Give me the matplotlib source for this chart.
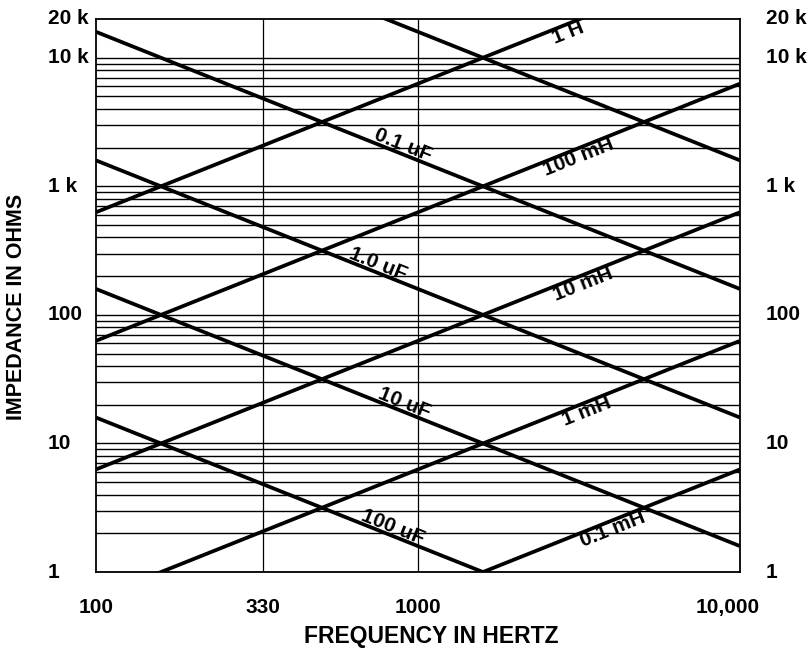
import numpy as np
import matplotlib
matplotlib.use('Agg')
import matplotlib.pyplot as plt
import matplotlib.transforms as mtransforms

plt.rcParams['font.family'] = ['Liberation Sans', 'DejaVu Sans']

# reactance lines, ohms read at 100 Hz and at 10 kHz (straight lines on log-log)
inductor_labels = ['1 H', '100 mH', '10 mH', '1 mH', '0.1 mH']
inductor_ohms_100 = [628, 62.8, 6.28, 0.628, 0.0628]
inductor_ohms_10k = [62800, 6280, 628, 62.8, 6.28]
inductor_label_freq = [2860, 3070, 3185, 3260, 3950]

capacitor_labels = ['', '0.1 uF', '1.0 uF', '10 uF', '100 uF']
capacitor_ohms_100 = [159000, 15900, 1590, 159, 15.9]
capacitor_ohms_10k = [1590, 159, 15.9, 1.59, 0.159]
capacitor_label_freq = [None, 880, 735, 890, 818]

freq_ends = [100, 10000]
xtick_values = [100, 330, 1000, 10000]
xtick_labels = ['100', '330', '1000', '10,000']
ytick_values = [1, 10, 100, 1000, 10000, 20000]
ytick_labels = ['1', '10', '100', '1 k', '10 k', '20 k']

fig = plt.figure(figsize=(8.09, 6.5), dpi=100)
ax = fig.add_axes([96/809, 1-572/650, 644/809, 553/650])
ax.set_xscale('log')
ax.set_yscale('log')
ax.set_xlim(100, 10000)
ax.set_ylim(1, 20000)

# horizontal grid: 1..9 in every decade
grid_y = [m * 10**d for d in range(0, 4) for m in range(1, 10)] + [10000]
for g in grid_y:
    ax.axhline(g, color='black', lw=1.0, zorder=1)
for g in [330, 1000]:
    ax.axvline(g, color='black', lw=0.9, zorder=1)

for s in ax.spines.values():
    s.set_linewidth(1.3)

ax.set_xticks(xtick_values)
ax.set_xticklabels(xtick_labels, fontsize=15, fontweight='bold')
ax.xaxis.set_minor_locator(matplotlib.ticker.NullLocator())
ax.yaxis.set_minor_locator(matplotlib.ticker.NullLocator())
ax.set_yticks([])
ax.tick_params(axis='x', length=0, pad=19)
# the 10,000 label sits a bit left of its grid line
last = ax.get_xticklabels()[-1]
last.set_transform(last.get_transform() + mtransforms.ScaledTranslation(-12/100, 0, fig.dpi_scale_trans))

blend = mtransforms.blended_transform_factory(ax.transAxes, ax.transData)
for v, s in zip(ytick_values, ytick_labels):
    ax.text(-0.075, v, s, transform=blend, ha='left', va='center',
            fontsize=15, fontweight='bold', clip_on=False)
    ax.text(1.040, v, s, transform=blend, ha='left', va='center',
            fontsize=15, fontweight='bold', clip_on=False)

ax.set_xlabel('FREQUENCY IN HERTZ', fontsize=16.5, fontweight='bold')
ax.xaxis.set_label_coords(0.52, -0.095)
ax.set_ylabel('IMPEDANCE IN OHMS', fontsize=15.5, fontweight='bold')
ax.yaxis.set_label_coords(-0.107, 0.48)


def draw_line(z0, z1, label, lf, side):
    ax.plot(freq_ends, [z0, z1], color='black', lw=2.7, solid_capstyle='butt', zorder=3)
    if not label:
        return
    t = np.log10(lf / 100) / 2
    zl = 10 ** (np.log10(z0) + t * (np.log10(z1) - np.log10(z0)))
    p0 = ax.transData.transform((100, z0))
    p1 = ax.transData.transform((10000, z1))
    a = np.degrees(np.arctan2(p1[1] - p0[1], p1[0] - p0[0]))
    r = np.radians(a)
    off = 6 * side
    ax.annotate(label, (lf, zl), xytext=(-np.sin(r) * off, np.cos(r) * off),
                textcoords='offset points', rotation=a, rotation_mode='anchor',
                ha='center', va='center', fontsize=15, fontweight='bold', zorder=4)


for z0, z1, lab, lf in zip(inductor_ohms_100, inductor_ohms_10k, inductor_labels, inductor_label_freq):
    draw_line(z0, z1, lab, lf, -1)
for z0, z1, lab, lf in zip(capacitor_ohms_100, capacitor_ohms_10k, capacitor_labels, capacitor_label_freq):
    draw_line(z0, z1, lab, lf, 1)

fig.savefig('out.png', dpi=100)
